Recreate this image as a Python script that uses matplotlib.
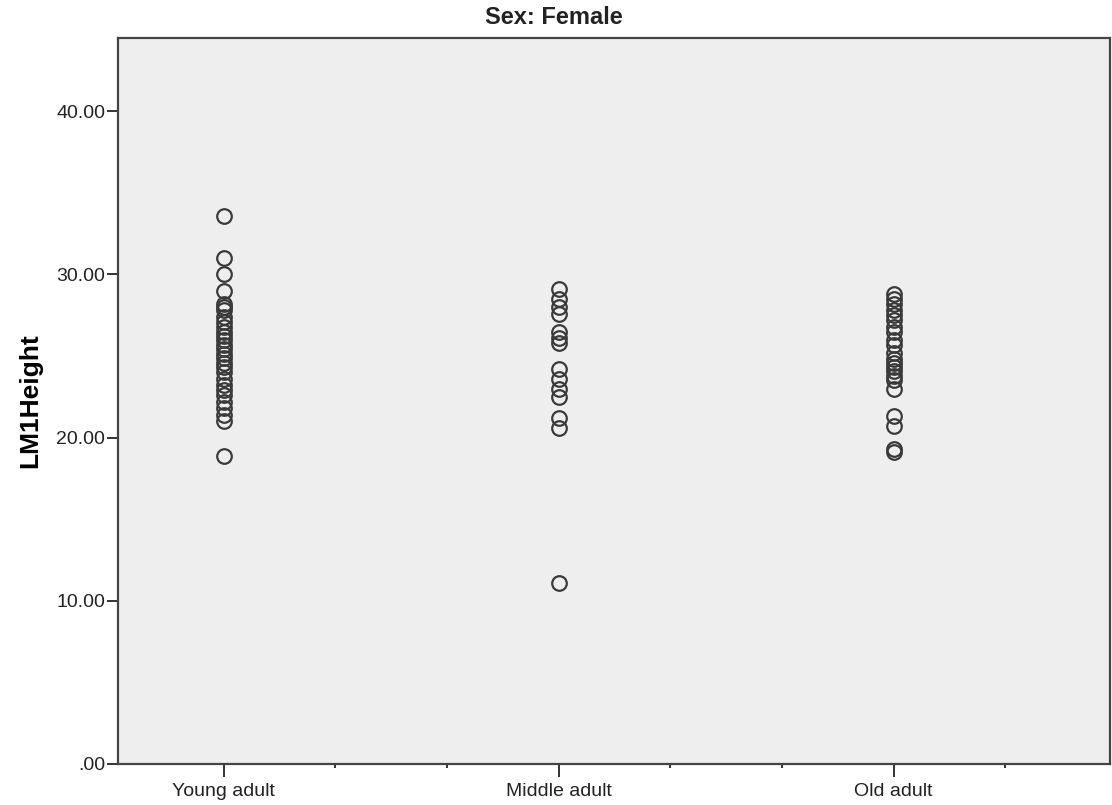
import matplotlib
matplotlib.use("Agg")
import matplotlib.pyplot as plt
from matplotlib.ticker import FixedLocator, FuncFormatter

plt.rcParams['font.family'] = ['Liberation Sans', 'DejaVu Sans']

# --------- DATA ----------
groups = ["Young adult", "Middle adult", "Old adult"]

young = [33.6, 31.0, 30.0, 29.0, 28.2, 28.0, 27.8, 27.4, 27.1, 26.8, 26.5, 26.2,
         26.0, 25.7, 25.4, 25.1, 24.9, 24.6, 24.3, 24.0, 23.6, 23.2, 22.9, 22.6,
         22.2, 21.8, 21.4, 21.0, 18.9]
middle = [29.1, 28.5, 28.0, 27.6, 26.5, 26.1, 25.8, 24.2, 23.6, 23.0, 22.5,
          21.2, 20.6, 11.1]
old = [28.8, 28.5, 28.2, 27.8, 27.5, 27.2, 26.8, 26.5, 26.0, 25.7, 25.2, 24.8,
       24.6, 24.3, 24.1, 23.8, 23.5, 23.0, 21.3, 20.7, 19.3, 19.1]

values = [young, middle, old]

# --------- PLOT ----------
fig = plt.figure(figsize=(11.12, 8.05), dpi=100)
ax = fig.add_axes([0.106, 0.051, 0.892, 0.902])
ax.set_facecolor("#eeeeee")

for i, vals in enumerate(values):
    ax.plot([i + 1] * len(vals), vals, linestyle="none", marker="o",
            markersize=10.5, markerfacecolor="none", markeredgecolor="#3a3a3a",
            markeredgewidth=1.6)

ax.set_xlim(0.684, 3.645)
ax.set_ylim(0, 44.5)

ax.set_yticks([0, 10, 20, 30, 40])
ax.yaxis.set_major_formatter(FuncFormatter(lambda v, p: ".00" if v == 0 else f"{v:.2f}"))
ax.set_xticks([1, 2, 3])
ax.set_xticklabels(groups)
ax.xaxis.set_minor_locator(FixedLocator([1 + k / 3 for k in range(1, 8) if k % 3 != 0]))

ax.tick_params(axis="y", direction="out", length=8, width=1.4, color="#333333",
               labelsize=14, pad=1, labelcolor="#222222")
ax.tick_params(axis="x", which="major", direction="out", length=9, width=1.4,
               color="#333333", labelsize=14, pad=5, labelcolor="#222222")
ax.tick_params(axis="x", which="minor", direction="out", length=3, width=1.4,
               color="#333333")

for s in ax.spines.values():
    s.set_color("#444444")
    s.set_linewidth(1.6)

ax.set_ylabel("LM1Height", fontsize=19, fontweight="bold", labelpad=10)
fig.text(554 / 1112, 1 - 17 / 805, "Sex: Female", ha="center", va="center",
         fontsize=17, fontweight="bold", color="#222222")

plt.savefig("out.png", dpi=100)
plt.close()
